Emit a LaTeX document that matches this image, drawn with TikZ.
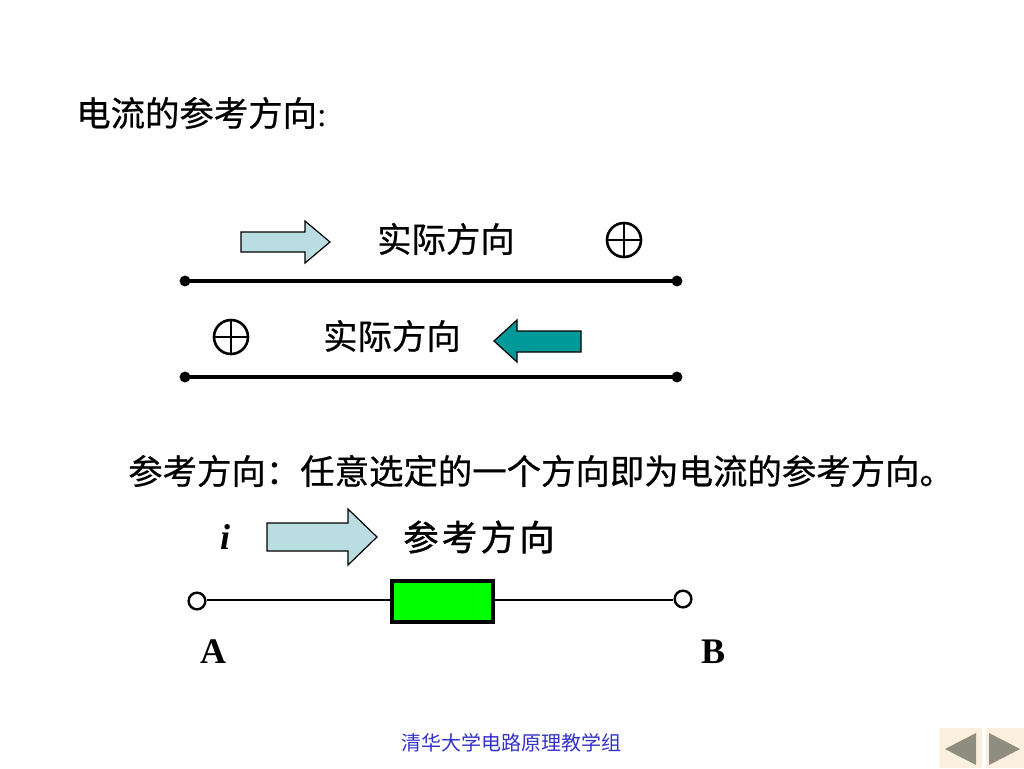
\documentclass[tikz,border=0pt]{standalone}
\usepackage{fontspec}
\setmainfont{Liberation Serif}
\newfontfamily\cjk[FakeBold=0.6]{Noto Sans CJK SC}
\newfontfamily\cjkheavy[FakeBold=1.2]{Noto Sans CJK SC}
\newfontfamily\cjkfoot{Noto Sans CJK SC}
\definecolor{lightarrow}{HTML}{B9DDE1}
\definecolor{tealarrow}{HTML}{009999}
\definecolor{footblue}{HTML}{3333CC}
\definecolor{btnbg}{HTML}{FBF0DD}
\definecolor{btntri}{HTML}{8F8C80}
\tikzset{
  x=0.75pt,y=-0.75pt,
  px/.style={line width=#1*0.75pt},
  cntext/.style={inner sep=0pt,font=\cjk\fontsize{25.8pt}{26pt}\selectfont},
  wire/.style={px=3.4,black,shorten <=-1.5pt,shorten >=-1.5pt},
  thinwire/.style={px=2,black},
  dotnode/.style={circle,fill=black,inner sep=0pt,minimum size=8.2pt},
  opennode/.style={circle,draw=black,px=2.4,fill=white,inner sep=0pt,minimum size=12.5pt},
  blockarrow/.style={draw=black,px=1.2},
  plusnode/.style={circle,draw=black,px=2.6,inner sep=0pt,minimum size=25.5pt,
     path picture={\draw[black,px=2] (path picture bounding box.north) -- (path picture bounding box.south)
       (path picture bounding box.west) -- (path picture bounding box.east);}},
  latin/.style={inner sep=0pt,font=\fontsize{27pt}{28pt}\selectfont\bfseries},
}
\begin{document}
\begin{tikzpicture}
\useasboundingbox (0,0) rectangle (1024,768);
\fill[white] (0,0) rectangle (1024,768);
% title
\node[cntext,anchor=west] (title) at (76,113) {电流的参考方向\rmfamily:};
% first line
\filldraw[blockarrow,fill=lightarrow] (241,232) -- (305,232) -- (305,221) -- (330,242) -- (305,263) -- (305,252) -- (241,252) -- cycle;
\node[cntext] (t1) at (446,239) {实际方向};
\node[plusnode] (p1) at (624,240) {};
\node[dotnode] (d1) at (185,281) {};
\node[dotnode] (d2) at (677,281) {};
\draw[wire] (d1) -- (d2);
% second line
\node[plusnode] (p2) at (231,337) {};
\node[cntext] (t2) at (392,336) {实际方向};
\filldraw[blockarrow,fill=tealarrow] (581,331) -- (517,331) -- (517,320) -- (494,341) -- (517,362) -- (517,352) -- (581,352) -- cycle;
\node[dotnode] (d3) at (185,377) {};
\node[dotnode] (d4) at (677,377) {};
\draw[wire] (d3) -- (d4);
% sentence
\node[cntext,anchor=west] (s) at (128,471) {参考方向：任意选定的一个方向即为电流的参考方向。};
% reference direction
\node[inner sep=0pt,font=\fontsize{27pt}{28pt}\selectfont\bfseries\itshape] (i) at (225,537) {i};
\filldraw[blockarrow,fill=lightarrow] (267,523) -- (348,523) -- (348,509) -- (377,537) -- (348,565) -- (348,551) -- (267,551) -- cycle;
\node[inner sep=0pt,anchor=west,font=\cjkheavy\fontsize{26.5pt}{27pt}\selectfont] (t3) at (403,537) {参\hspace{2.5pt}考\hspace{2.5pt}方\hspace{2.5pt}向};
% resistor
\node[draw=black,px=3.4,fill=green,inner sep=0pt,minimum width=75.5pt,minimum height=31pt] (r) at (442.5,601.5) {};
\node[opennode] (oa) at (197,601) {};
\node[opennode] (ob) at (683,599) {};
\coordinate (wy) at (0,600);
\draw[thinwire] (oa.east |- wy) -- (r.west |- wy);
\draw[thinwire] (r.east |- wy) -- (ob.west |- wy);
\node[latin] (A) at (213,652) {A};
\node[latin] (B) at (713,652) {B};
% footer
\node[inner sep=0pt,text=footblue,font=\cjkfoot\fontsize{15pt}{16pt}\selectfont] (foot) at (511.5,743) {清华大学电路原理教学组};
% buttons
\fill[btnbg] (940,728) rectangle (982,768);
\fill[btnbg] (986,728) rectangle (1024,768);
\fill[btntri] (945,749) -- (976,733) -- (976,765) -- cycle;
\fill[btntri] (989,733) -- (1020,749) -- (989,765) -- cycle;
\end{tikzpicture}
\end{document}
